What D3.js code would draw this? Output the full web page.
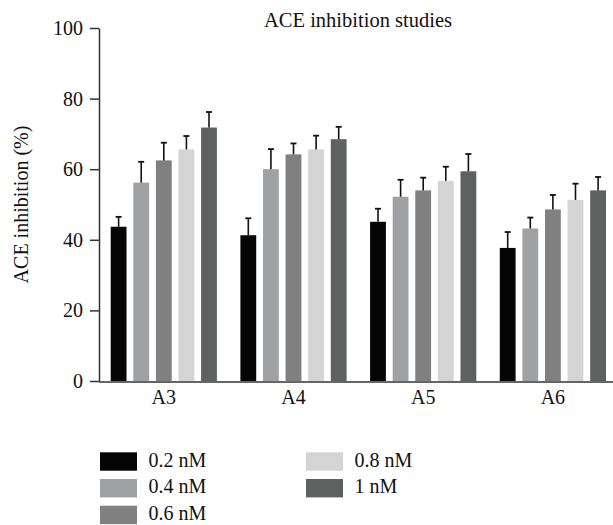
<!DOCTYPE html>
<html>
<head>
<meta charset="utf-8">
<script src="https://cdn.jsdelivr.net/npm/d3@7/dist/d3.min.js"></script>
<style>
  body { margin: 0; background: #fff; }
  text { font-family: "Liberation Serif", "Times New Roman", serif; fill: #111; }
</style>
</head>
<body>
<div id="chart"></div>
<script>
// chart data
const groups = ['A3', 'A4', 'A5', 'A6'];
const series = ['0.2 nM', '0.4 nM', '0.6 nM', '0.8 nM', '1 nM'];
const colors = ['#050505', '#a0a1a4', '#808080', '#d4d4d4', '#5f6160'];
// mean values per group, one entry per series
const values = [
  [43.7, 56.2, 62.5, 65.6, 71.8],
  [41.3, 60.0, 64.2, 65.6, 68.5],
  [45.1, 52.2, 54.0, 56.7, 59.4],
  [37.7, 43.2, 48.6, 51.3, 54.0]
];
// upper error (SD)
const errors = [
  [2.8, 5.9, 5.0, 3.8, 4.4],
  [4.8, 5.7, 3.1, 3.9, 3.5],
  [3.7, 4.8, 3.6, 4.0, 4.9],
  [4.5, 3.1, 4.1, 4.6, 3.8]
];
const yTicks = [0, 20, 40, 60, 80, 100];

const width = 613, height = 525;
const margin = { left: 100, top: 28, bottom: 144 };
const y0 = height - margin.bottom; // baseline at ~381
const fontSize = '20px';

const svg = d3.select('#chart')
  .append('svg')
  .attr('width', width)
  .attr('height', height);

const y = d3.scaleLinear().domain([0, 100]).range([y0, margin.top]);

const x0 = d3.scaleBand()
  .domain(groups)
  .range([margin.left, 616.7])
  .paddingInner(0.181)
  .paddingOuter(0.0825);

const x1 = d3.scaleBand()
  .domain(series)
  .range([0, x0.bandwidth()])
  .paddingInner(0.3)
  .paddingOuter(0);

// title
svg.append('text')
  .attr('x', 358)
  .attr('y', 27)
  .attr('text-anchor', 'middle')
  .style('font-size', '20.5px')
  .text('ACE inhibition studies');

// y axis label
svg.append('text')
  .attr('transform', `translate(28,${(y(100) + y(0)) / 2}) rotate(-90)`)
  .attr('text-anchor', 'middle')
  .style('font-size', fontSize)
  .text('ACE inhibition (%)');

// bars
const g = svg.append('g');
groups.forEach((grp, gi) => {
  const gg = g.append('g').attr('transform', `translate(${x0(grp)},0)`);
  const rows = series.map((s, si) => ({ s, si, v: values[gi][si], e: errors[gi][si] }));

  gg.selectAll('rect')
    .data(rows)
    .enter()
    .append('rect')
    .attr('x', d => x1(d.s))
    .attr('y', d => y(d.v))
    .attr('width', x1.bandwidth())
    .attr('height', d => y(0) - y(d.v))
    .attr('fill', d => colors[d.si]);

  // error bars (upper only)
  gg.selectAll('line.err')
    .data(rows)
    .enter()
    .append('line')
    .attr('class', 'err')
    .attr('x1', d => x1(d.s) + x1.bandwidth() / 2)
    .attr('x2', d => x1(d.s) + x1.bandwidth() / 2)
    .attr('y1', d => y(d.v))
    .attr('y2', d => y(d.v + d.e))
    .attr('stroke', '#111')
    .attr('stroke-width', 1.6);

  gg.selectAll('line.cap')
    .data(rows)
    .enter()
    .append('line')
    .attr('class', 'cap')
    .attr('x1', d => x1(d.s) + x1.bandwidth() / 2 - 3)
    .attr('x2', d => x1(d.s) + x1.bandwidth() / 2 + 3)
    .attr('y1', d => y(d.v + d.e))
    .attr('y2', d => y(d.v + d.e))
    .attr('stroke', '#111')
    .attr('stroke-width', 1.8);
});

// y axis
const yAxis = svg.append('g')
  .attr('transform', `translate(${margin.left - 1},0)`)
  .call(d3.axisLeft(y).tickValues(yTicks).tickSize(9).tickSizeOuter(0).tickPadding(7));
yAxis.select('.domain').attr('stroke', '#333').attr('stroke-width', 1.5);
yAxis.selectAll('.tick line').attr('stroke', '#333').attr('stroke-width', 1.5);
yAxis.selectAll('.tick text')
  .style('font-family', '"Liberation Serif", serif')
  .style('font-size', fontSize)
  .attr('fill', '#111');

// x axis
const xAxis = svg.append('g')
  .attr('transform', `translate(0,${y0 + 1})`)
  .call(d3.axisBottom(x0).tickSize(0).tickSizeOuter(0).tickPadding(8));
xAxis.select('.domain')
  .attr('d', `M${margin.left - 1},0H${width}`)
  .attr('stroke', '#333').attr('stroke-width', 1.5);
xAxis.selectAll('.tick text')
  .style('font-family', '"Liberation Serif", serif')
  .style('font-size', fontSize)
  .attr('fill', '#111');

// legend
const legendCols = [[0, 1, 2], [3, 4]];
const legX = [100, 306];
const legend = svg.append('g');
legendCols.forEach((col, ci) => {
  col.forEach((si, ri) => {
    const ly = 452.3 + ri * 26.7;
    legend.append('rect')
      .attr('x', legX[ci])
      .attr('y', ly)
      .attr('width', 37)
      .attr('height', 18.4)
      .attr('fill', colors[si]);
    legend.append('text')
      .attr('x', legX[ci] + 48.5)
      .attr('y', ly + 14.4)
      .style('font-size', fontSize)
      .text(series[si]);
  });
});
</script>
</body>
</html>
